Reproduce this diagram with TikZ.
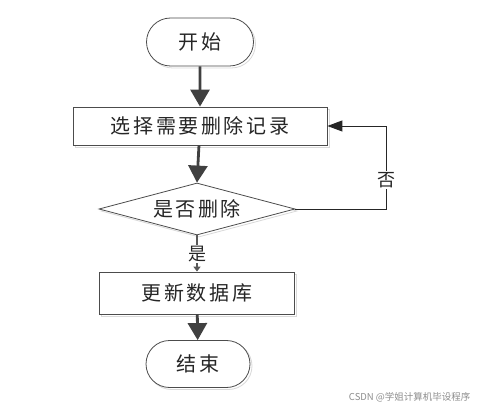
\documentclass[tikz,border=0pt]{standalone}
\usepackage{fontspec}
\setmainfont{Noto Sans CJK SC}
\newfontfamily\cjk{Noto Sans CJK SC}
\usetikzlibrary{shapes.geometric,shapes.misc,arrows.meta,shadows}
\begin{document}
\begin{tikzpicture}[x=1pt,y=-1pt,
  lbl/.style={font=\fontsize{20}{22}\selectfont\cjk\addfontfeature{LetterSpace=13}, text=black!85},
  ghost/.style={general shadow={shadow xshift=2pt,shadow yshift=-2pt,draw=black!15,fill=white}},
  term/.style={rounded rectangle, draw=black!70, line width=0.8pt, fill=white, ghost, minimum width=107pt, minimum height=48pt, inner sep=0pt, lbl},
  procbox/.style={rectangle, draw=black!70, line width=0.8pt, fill=white, ghost, inner sep=0pt, lbl},
  decide/.style={diamond, draw=black!70, line width=0.8pt, fill=white, ghost, inner sep=0pt, aspect=3.7},
  bigarrow/.style={draw=black!75, line width=2.8pt, -{Triangle[width=19pt,length=17pt]}},
  thinarrow/.style={draw=black!85, line width=0.9pt, -{Triangle[width=11pt,length=15pt]}},
  yesarrow/.style={draw=black!65, line width=1.2pt, -{Triangle[width=7pt,length=5pt]}},
  edgelbl/.style={fill=white, inner sep=1pt, font=\fontsize{18}{20}\selectfont\cjk, text=black!85}
]
\useasboundingbox (0,0) rectangle (477,409);
\node[term] (start) at (200,42) {开始};
\node[procbox, minimum width=254pt, minimum height=38pt] (b1) at (200,126) {选择需要删除记录};
\node[decide, minimum width=196pt, minimum height=52pt] (d) at (197,209) {};
\node[lbl] (dt) at (d.center) {是否删除};
\node[procbox, minimum width=195pt, minimum height=42pt] (b2) at (197,293) {更新数据库};
\node[term, minimum width=104pt, minimum height=47pt] (end) at (198,364) {结束};
\coordinate (loop) at (386,126);
\draw[bigarrow] (start) -- (b1);
\draw[bigarrow] (b1) -- (d.north);
\draw[thinarrow] (d.east) -| (loop) -- (b1.east);
\node[edgelbl] (no) at (386,180) {否};
\draw[yesarrow] (d.south) -- (b2.north);
\node[edgelbl] (yes) at (197,254) {是};
\draw[bigarrow] (b2) -- (end);
\node[font=\fontsize{9.5}{11}\selectfont\cjk, text=black!45, anchor=east] (wm) at (474,397) {CSDN @学姐计算机毕设程序};
\end{tikzpicture}
\end{document}
